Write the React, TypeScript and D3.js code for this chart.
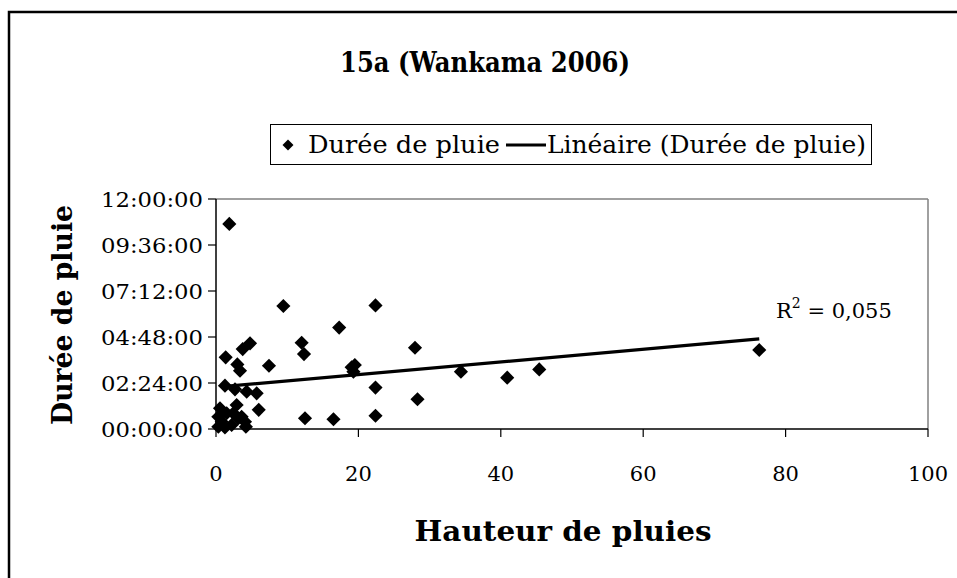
import React from "react";
import * as d3 from "d3";

// Hauteur de pluies (mm)
const rainDepth = [
  1.87, 9.46, 4.78, 3.75, 12.03, 12.36, 1.36, 3.0, 3.37, 7.44,
  1.26, 2.67, 4.31, 5.71, 6.0, 12.5, 0.56, 2.9, 0.33, 0.8,
  1.5, 2.43, 3.13, 4.07, 0.33, 1.26, 2.2, 4.2, 3.6,
  22.4, 17.3, 27.95, 19.5, 19.05, 19.3, 34.4, 40.9, 45.4, 22.4,
  28.3, 16.5, 22.4, 76.3,
];
// Durée de pluie (heures)
const rainDuration = [
  10.7, 6.42, 4.47, 4.17, 4.5, 3.91, 3.74, 3.37, 3.04, 3.3,
  2.26, 2.07, 1.95, 1.86, 1.0, 0.56, 1.08, 1.25, 0.64, 0.38,
  0.82, 0.82, 0.56, 0.38, 0.12, 0.08, 0.21, 0.12, 0.64,
  6.45, 5.29, 4.24, 3.34, 3.22, 2.99, 2.99, 2.68, 3.11, 2.16,
  1.55, 0.51, 0.69, 4.12,
];
// Courbe de tendance linéaire (heures = a + b * mm)
const trendIntercept = 2.18;
const trendSlope = 0.033;
const trendRange = [1.26, 76.3];
const r2Label = "0,055";

const xTicks = [0, 20, 40, 60, 80, 100];
const yTicks = [0, 2.4, 4.8, 7.2, 9.6, 12];

const fmtHours = (h: number) => {
  const totalMin = Math.round(h * 60);
  const hh = Math.floor(totalMin / 60);
  const mm = totalMin % 60;
  const p = (n: number) => String(n).padStart(2, "0");
  return `${p(hh)}:${p(mm)}:00`;
};

const FONT = "DejaVu Serif";

export default function App() {
  const left = 216, right = 928, top = 199, bottom = 429;
  const x = d3.scaleLinear().domain([0, 100]).range([left, right]);
  const y = d3.scaleLinear().domain([0, 12]).range([bottom, top]);
  const diamond = d3.symbol().type(d3.symbolSquare).size(100)();
  const legendDiamond = d3.symbol().type(d3.symbolSquare).size(60)();
  const trend = d3.line<number>()
    .x((v) => x(v))
    .y((v) => y(trendIntercept + trendSlope * v))(trendRange);

  return (
    <svg width={957} height={578} style={{ position: "absolute", left: 0, top: 0, background: "#fff" }}>
      <rect x={0} y={0} width={957} height={578} fill="#fff" />
      <rect x={9} y={12} width={980} height={620} fill="none" stroke="#000" strokeWidth={2.5} />
      <text x={485} y={72} textAnchor="middle" fontFamily={FONT} fontWeight="bold" fontSize={28}
        textLength={290} lengthAdjust="spacingAndGlyphs">
        15a (Wankama 2006)
      </text>
      {/* legend */}
      <rect x={270.5} y={124.5} width={601} height={40} fill="#fff" stroke="#000" strokeWidth={1} />
      <path d={legendDiamond} transform="translate(288,145) rotate(45)" fill="#000" />
      <text x={308} y={153} fontFamily={FONT} fontSize={24} textLength={192} lengthAdjust="spacingAndGlyphs">Durée de pluie</text>
      <line x1={506} x2={546} y1={145} y2={145} stroke="#000" strokeWidth={3} />
      <text x={547} y={153} fontFamily={FONT} fontSize={24} textLength={319} lengthAdjust="spacingAndGlyphs">Linéaire (Durée de pluie)</text>

      {/* plot frame */}
      <line x1={left} x2={right} y1={top} y2={top} stroke="#808080" strokeWidth={1.5} />
      <line x1={right} x2={right} y1={top} y2={bottom} stroke="#808080" strokeWidth={1.5} />
      <line x1={left} x2={right} y1={bottom} y2={bottom} stroke="#000" strokeWidth={1.5} />
      <line x1={left} x2={left} y1={top} y2={bottom} stroke="#000" strokeWidth={1.5} />
      {xTicks.map((t) => (
        <g key={"x" + t}>
          <line x1={x(t)} x2={x(t)} y1={bottom} y2={bottom + 8} stroke="#000" strokeWidth={1.2} />
          <text x={x(t)} y={481} textAnchor="middle" fontFamily={FONT} fontSize={21}>{t}</text>
        </g>
      ))}
      {yTicks.map((t) => (
        <g key={"y" + t}>
          <line x1={left - 8} x2={left} y1={y(t)} y2={y(t)} stroke="#000" strokeWidth={1.2} />
          <text x={203} y={y(t) + 7.5} textAnchor="end" fontFamily={FONT} fontSize={21}
            textLength={102} lengthAdjust="spacingAndGlyphs">{fmtHours(t)}</text>
        </g>
      ))}
      {/* points */}
      {rainDepth.map((v, i) => (
        <path key={i} d={diamond} transform={`translate(${x(v)},${y(rainDuration[i])}) rotate(45)`} fill="#000" />
      ))}
      <path d={trend ?? ""} fill="none" stroke="#000" strokeWidth={3.2} />
      <text x={776} y={318} fontFamily={FONT} fontSize={21}>
        R<tspan dy={-10} fontSize={14}>2</tspan><tspan dy={10}> = {r2Label}</tspan>
      </text>
      {/* axis titles */}
      <text x={563} y={541} textAnchor="middle" fontFamily={FONT} fontWeight="bold" fontSize={27}
        textLength={297} lengthAdjust="spacingAndGlyphs">
        Hauteur de pluies
      </text>
      <text transform="translate(72,315) rotate(-90)" textAnchor="middle" fontFamily={FONT} fontWeight="bold" fontSize={27}
        textLength={220} lengthAdjust="spacingAndGlyphs">
        Durée de pluie
      </text>
    </svg>
  );
}
